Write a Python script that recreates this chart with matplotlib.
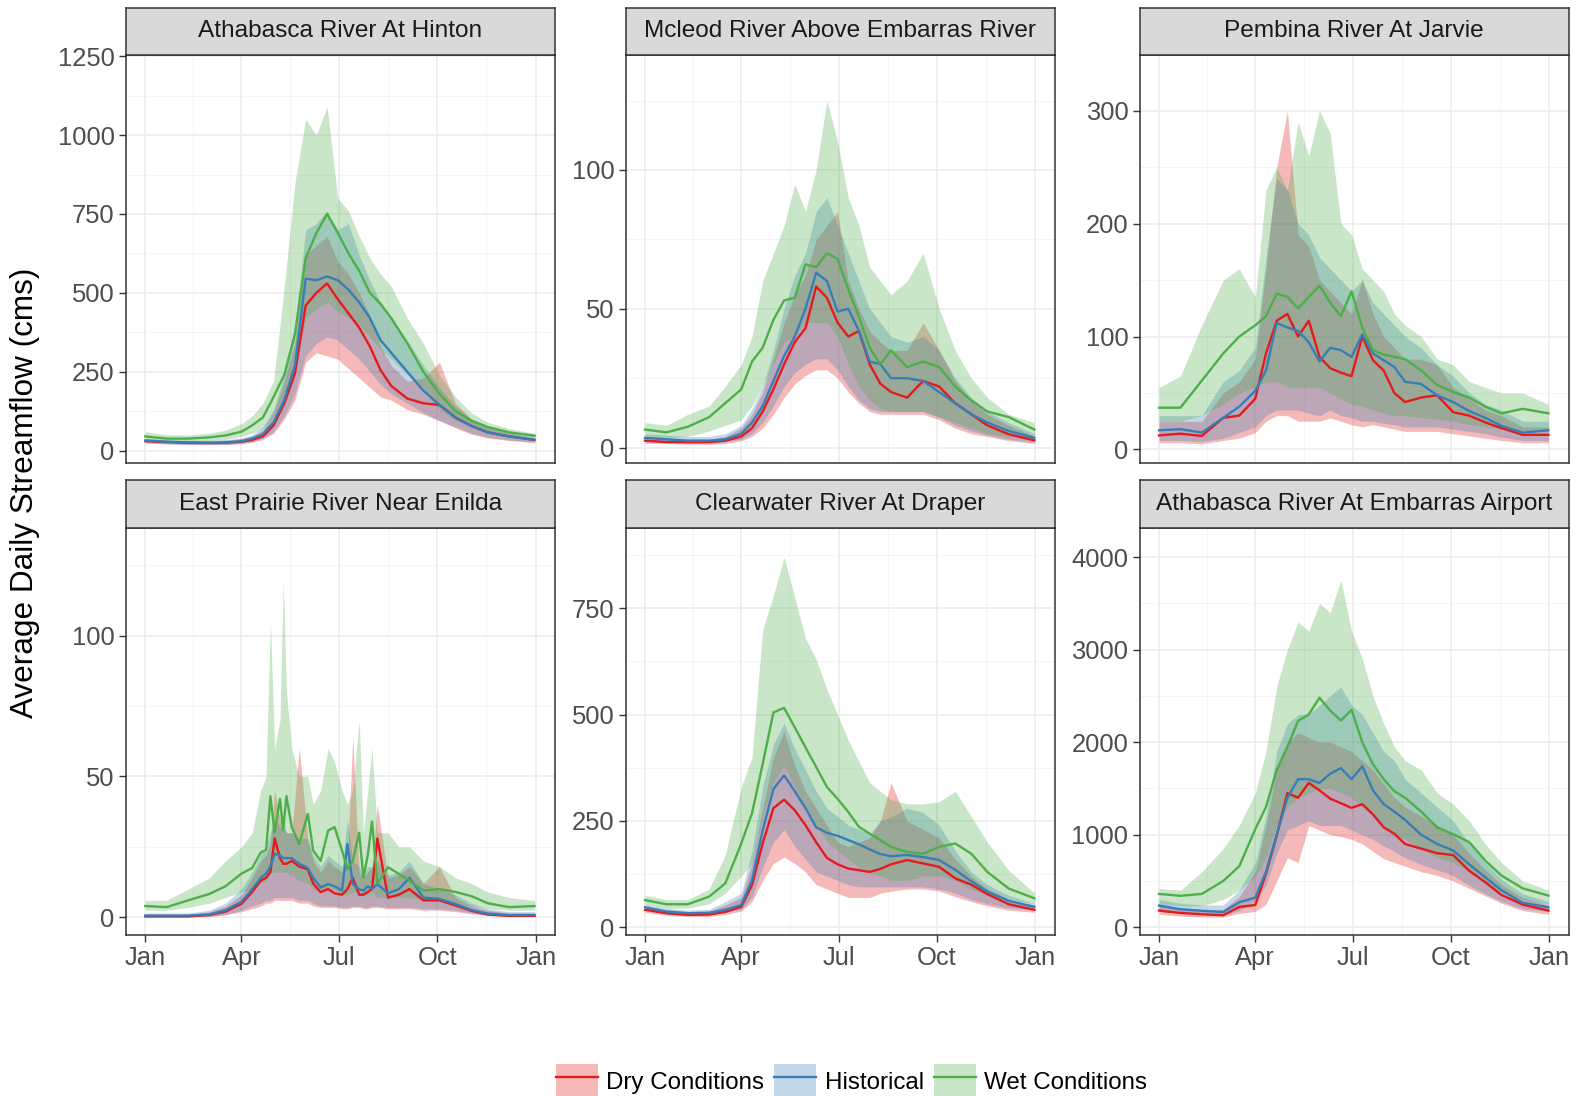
import matplotlib
matplotlib.use('agg')
import matplotlib.pyplot as plt
from matplotlib.patches import Patch
from matplotlib.lines import Line2D
from matplotlib.ticker import AutoMinorLocator

plt.rcParams['font.family'] = ['Liberation Sans', 'DejaVu Sans']

# day of year (0 = Jan 1)
DAYS = [0, 20, 40, 60, 75, 90, 100, 110, 120, 130, 140, 150, 160, 170, 180,
        190, 200, 210, 220, 230, 245, 260, 275, 290, 305, 320, 340, 364]
DAYS_EP = [0, 20, 40, 60, 75, 90, 100, 108, 113, 117, 121, 126, 129, 132, 137,
           144, 152, 157, 164, 171, 177, 184, 189, 194, 200, 204, 208, 212, 217,
           227, 237, 247, 260, 275, 290, 305, 320, 340, 364]

STATIONS = ["Athabasca River At Hinton", "Mcleod River Above Embarras River",
            "Pembina River At Jarvie", "East Prairie River Near Enilda",
            "Clearwater River At Draper", "Athabasca River At Embarras Airport"]
SCENARIOS = ["Dry Conditions", "Historical", "Wet Conditions"]
MONTHS = ["Jan", "Apr", "Jul", "Oct", "Jan"]
MONTH_DAYS = [0, 90, 181, 273, 365]

# --- Athabasca River At Hinton
HIN_DRY = [30, 27, 25, 24, 25, 28, 34, 45, 80, 150, 245, 460, 500, 530, 480, 435, 390, 330, 255, 205, 165, 150, 145, 105, 78, 58, 45, 34]
HIN_HIST = [32, 28, 26, 25, 26, 30, 38, 52, 90, 160, 270, 545, 540, 552, 540, 510, 470, 420, 350, 310, 250, 190, 145, 105, 78, 58, 45, 34]
HIN_WET = [45, 38, 38, 42, 48, 60, 80, 105, 170, 240, 370, 610, 690, 750, 690, 625, 570, 500, 465, 420, 340, 250, 180, 125, 95, 75, 58, 47]
HIN_DRY_LO = [24, 21, 19, 19, 19, 22, 26, 35, 55, 100, 160, 280, 310, 300, 290, 260, 230, 200, 170, 160, 130, 115, 95, 72, 52, 40, 32, 25]
HIN_DRY_HI = [38, 33, 31, 31, 33, 38, 46, 65, 120, 220, 340, 620, 650, 680, 600, 560, 500, 430, 330, 270, 220, 230, 280, 150, 100, 72, 55, 40]
HIN_HIST_LO = [25, 22, 20, 20, 20, 24, 28, 40, 60, 110, 180, 300, 340, 360, 350, 320, 290, 250, 210, 180, 150, 120, 95, 75, 55, 42, 34, 27]
HIN_HIST_HI = [40, 35, 33, 33, 35, 40, 50, 75, 130, 240, 400, 700, 720, 760, 700, 720, 620, 540, 470, 420, 350, 270, 200, 140, 100, 75, 58, 42]
HIN_WET_LO = [35, 30, 30, 32, 36, 45, 55, 70, 110, 160, 250, 420, 450, 470, 440, 420, 400, 360, 320, 290, 240, 190, 130, 95, 75, 58, 45, 38]
HIN_WET_HI = [60, 50, 50, 55, 65, 85, 110, 150, 220, 520, 850, 1050, 1000, 1090, 800, 760, 680, 610, 560, 520, 420, 340, 240, 170, 120, 90, 70, 55]

# --- Mcleod River Above Embarras River
MCL_DRY = [2.5, 2, 2, 2, 2.5, 4, 7, 13, 21, 30, 38, 43, 58, 54, 45, 40, 42, 30, 23, 20, 18, 24, 22, 16, 12, 8, 4.8, 2.6]
MCL_HIST = [3.5, 3, 2.5, 2.5, 3, 5, 9, 15, 24, 33, 40, 50, 63, 60, 49, 50, 42, 31, 30, 25, 25, 24, 20, 16, 12, 9, 6, 3.5]
MCL_WET = [6.5, 5.5, 7.5, 11, 16, 21, 31, 36, 46, 53, 54, 66, 65, 70, 68, 57, 47, 36, 30, 35, 29, 31, 29, 22, 17, 13, 11, 6.5]
MCL_DRY_LO = [1.5, 1.5, 1.2, 1.2, 1.5, 2.5, 4, 7, 12, 18, 23, 26, 28, 28, 25, 20, 16, 13, 12, 12, 12, 12, 10, 7, 5, 4, 2.5, 1.5]
MCL_DRY_HI = [4, 3.5, 3, 3, 4, 7, 12, 20, 32, 45, 55, 62, 75, 80, 85, 60, 50, 42, 38, 35, 35, 45, 35, 24, 17, 12, 8, 4]
MCL_HIST_LO = [2, 2, 1.5, 1.5, 2, 3, 5, 9, 15, 22, 27, 30, 32, 32, 28, 22, 17, 14, 13, 13, 13, 13, 11, 8, 6, 4.5, 3, 2]
MCL_HIST_HI = [5, 4.5, 4, 4, 5, 8, 14, 22, 35, 50, 62, 70, 85, 90, 80, 70, 60, 50, 45, 40, 38, 40, 35, 25, 18, 13, 9, 5]
MCL_WET_LO = [4, 3.5, 4, 6, 8, 10, 15, 22, 30, 38, 40, 45, 45, 45, 40, 30, 22, 17, 14, 13, 13, 13, 11, 9, 7, 5, 4, 3]
MCL_WET_HI = [9, 8, 12, 15, 22, 30, 40, 60, 70, 80, 95, 85, 100, 125, 110, 90, 80, 65, 60, 55, 60, 70, 50, 35, 25, 18, 12, 9]

# --- Pembina River At Jarvie
PEM_DRY = [12.5, 14, 12, 28, 30, 45, 85, 114, 120, 100, 114, 82, 72, 68, 65, 100, 79, 70, 50, 42, 46, 48, 33, 30, 24, 19, 13, 13]
PEM_HIST = [17, 18, 15, 28, 38, 52, 70, 112, 108, 105, 95, 78, 90, 88, 82, 102, 85, 79, 73, 60, 58, 48, 42, 34, 28, 21, 15, 17]
PEM_WET = [37, 37, 61, 85, 100, 110, 118, 138, 135, 125, 135, 145, 130, 118, 140, 108, 88, 84, 82, 80, 70, 57, 51, 46, 38, 32, 36, 32]
PEM_DRY_LO = [6, 6, 5, 8, 10, 15, 25, 30, 30, 25, 25, 25, 28, 25, 22, 20, 22, 20, 18, 16, 16, 16, 14, 12, 10, 8, 6, 6]
PEM_DRY_HI = [25, 25, 25, 50, 60, 80, 160, 250, 300, 190, 180, 150, 140, 130, 120, 150, 120, 100, 90, 80, 80, 75, 55, 45, 35, 30, 20, 20]
PEM_HIST_LO = [8, 8, 7, 10, 15, 20, 30, 35, 35, 35, 32, 30, 35, 30, 28, 25, 25, 23, 22, 20, 20, 20, 18, 16, 14, 11, 8, 8]
PEM_HIST_HI = [30, 30, 30, 60, 70, 90, 170, 240, 230, 200, 190, 170, 160, 150, 140, 150, 130, 120, 110, 100, 90, 75, 65, 50, 40, 35, 25, 25]
PEM_WET_LO = [25, 25, 30, 40, 50, 55, 60, 60, 55, 55, 55, 55, 50, 45, 40, 38, 35, 32, 30, 30, 28, 27, 25, 22, 20, 18, 17, 17]
PEM_WET_HI = [55, 65, 110, 150, 160, 135, 230, 250, 230, 290, 260, 300, 280, 200, 190, 160, 150, 140, 120, 110, 100, 80, 75, 60, 55, 50, 50, 40]

# --- East Prairie River Near Enilda (finer day grid)
EPR_DRY = [0.3, 0.3, 0.3, 0.8, 2, 4.8, 9, 13, 14, 16, 28, 21, 19, 19, 20, 18, 17, 12, 8.9, 10, 8.5, 8, 10, 14, 8, 8, 9, 10, 28, 7, 8, 10, 6, 6, 4.2, 2.3, 1, 0.5, 0.5]
EPR_HIST = [0.6, 0.6, 0.6, 1, 2.5, 5.5, 10, 14, 15.5, 18, 22.5, 22, 21, 21, 21, 19, 17.5, 14, 10.6, 11.8, 11, 9.5, 26, 11.8, 10, 9.5, 11, 10, 11.8, 8.5, 10, 14, 7, 6.5, 4.7, 2.6, 1.3, 0.8, 0.8]
EPR_WET = [4, 3.6, 6, 8.3, 11, 15.5, 17.5, 23, 24, 43, 30, 42, 31, 43, 32, 26, 36.7, 23.7, 20, 30.8, 32, 23.7, 17, 20, 30, 14, 22, 34, 12, 17.8, 15.4, 13, 9.5, 10, 9, 7.5, 5, 3.6, 4]
EPR_DRY_LO = [0.1, 0.1, 0.1, 0.3, 0.8, 2, 3, 4, 5, 5, 6, 6, 6, 6, 6, 5, 5, 4, 3.5, 3.5, 3.5, 3, 3, 3.5, 3.5, 3, 3, 3.5, 3.5, 3, 3, 3, 2.5, 2.5, 2, 1.2, 0.6, 0.3, 0.3]
EPR_DRY_HI = [1, 1, 1, 2, 4, 8, 14, 20, 22, 26, 45, 35, 32, 30, 30, 60, 28, 20, 16, 20, 18, 16, 20, 64, 16, 14, 16, 18, 40, 14, 15, 18, 12, 18, 7, 4, 2.5, 1.5, 1.5]
EPR_HIST_LO = [0.2, 0.2, 0.2, 0.4, 1, 2.5, 4, 5, 6, 6, 7, 7, 7, 7, 7, 6, 6, 5, 4, 4, 4, 3.5, 3.5, 4, 4, 3.5, 3.5, 4, 4, 3.5, 3.5, 3.5, 3, 3, 2.5, 1.5, 0.8, 0.4, 0.4]
EPR_HIST_HI = [1.5, 1.5, 1.5, 2.5, 5, 10, 16, 22, 25, 30, 35, 32, 35, 30, 30, 28, 28, 22, 18, 22, 20, 18, 35, 20, 18, 15, 18, 18, 20, 15, 16, 20, 12, 10, 8, 5, 3, 2, 2]
EPR_WET_LO = [2.5, 2.5, 3.5, 5, 7, 9, 10, 12, 13, 16, 16, 16, 16, 16, 15, 13, 12, 10, 9, 10, 10, 8, 8, 9, 9, 8, 8, 9, 7, 7, 7, 7, 6, 6, 5, 4, 3, 2.5, 2.5]
EPR_WET_HI = [6, 6, 10, 14, 20, 25, 30, 45, 50, 105, 60, 70, 120, 80, 60, 50, 50, 40, 45, 60, 55, 45, 40, 45, 70, 30, 45, 60, 30, 30, 25, 25, 20, 18, 14, 12, 9, 7, 6]

# --- Clearwater River At Draper
CLW_DRY = [41, 33, 29, 30, 36, 48, 99, 197, 280, 300, 275, 240, 200, 163, 148, 138, 134, 130, 137, 148, 158, 150, 142, 115, 100, 78, 54, 41]
CLW_HIST = [47, 37, 33, 34, 41, 52, 111, 228, 325, 357, 320, 280, 235, 222, 215, 205, 195, 183, 172, 167, 170, 165, 158, 135, 108, 84, 62, 48]
CLW_WET = [64, 54, 54, 72, 103, 197, 268, 384, 505, 516, 470, 423, 377, 330, 302, 271, 236, 220, 205, 189, 177, 173, 189, 197, 173, 130, 91, 68]
CLW_DRY_LO = [35, 28, 25, 25, 30, 38, 60, 110, 150, 165, 150, 130, 100, 90, 80, 70, 70, 70, 80, 85, 90, 90, 85, 72, 60, 50, 40, 35]
CLW_DRY_HI = [48, 40, 35, 38, 52, 70, 150, 280, 400, 460, 380, 320, 280, 240, 200, 190, 200, 210, 250, 340, 250, 230, 210, 160, 120, 90, 65, 48]
CLW_HIST_LO = [40, 32, 28, 28, 35, 42, 70, 140, 200, 230, 190, 160, 130, 120, 110, 100, 95, 95, 95, 95, 95, 95, 90, 80, 65, 55, 45, 40]
CLW_HIST_HI = [55, 45, 40, 42, 60, 80, 180, 330, 430, 480, 420, 370, 320, 280, 260, 240, 230, 220, 250, 260, 280, 270, 240, 180, 130, 100, 75, 55]
CLW_WET_LO = [55, 45, 45, 55, 80, 120, 150, 260, 340, 380, 330, 280, 240, 200, 180, 160, 140, 130, 120, 110, 110, 120, 120, 110, 90, 75, 65, 55]
CLW_WET_HI = [75, 65, 65, 90, 170, 330, 400, 700, 780, 870, 775, 680, 630, 560, 500, 440, 390, 340, 320, 300, 290, 290, 295, 320, 260, 200, 134, 80]

# --- Athabasca River At Embarras Airport
EMB_DRY = [180, 155, 140, 130, 220, 240, 580, 990, 1450, 1400, 1560, 1480, 1390, 1340, 1290, 1330, 1220, 1080, 1010, 900, 850, 800, 780, 610, 486, 350, 245, 180]
EMB_HIST = [234, 195, 178, 165, 270, 320, 600, 1000, 1400, 1600, 1600, 1560, 1660, 1720, 1600, 1740, 1480, 1330, 1250, 1160, 1000, 900, 830, 680, 540, 400, 265, 216]
EMB_WET = [360, 340, 360, 500, 660, 1060, 1300, 1700, 1950, 2230, 2300, 2480, 2342, 2234, 2350, 2000, 1760, 1600, 1470, 1400, 1250, 1080, 1005, 920, 720, 560, 420, 342]
EMB_DRY_LO = [140, 120, 110, 110, 150, 170, 250, 500, 750, 700, 1100, 1050, 1000, 980, 950, 900, 820, 740, 700, 660, 600, 560, 500, 420, 340, 260, 180, 140]
EMB_DRY_HI = [240, 210, 190, 190, 330, 600, 1100, 1700, 2000, 2100, 2050, 2000, 2000, 1950, 1900, 1800, 1700, 1550, 1400, 1300, 1200, 1100, 1000, 800, 620, 460, 320, 240]
EMB_HIST_LO = [170, 150, 140, 135, 180, 280, 450, 800, 1050, 1100, 1150, 1100, 1100, 1100, 1050, 1000, 950, 880, 820, 750, 680, 620, 560, 450, 360, 280, 200, 170]
EMB_HIST_HI = [300, 260, 240, 240, 400, 700, 1200, 1900, 2200, 2300, 2300, 2400, 2500, 2600, 2400, 2300, 2100, 1900, 1800, 1600, 1450, 1300, 1150, 900, 700, 520, 360, 280]
EMB_WET_LO = [250, 230, 230, 300, 400, 550, 750, 1100, 1300, 1400, 1450, 1500, 1500, 1450, 1400, 1300, 1200, 1100, 1000, 950, 850, 750, 700, 600, 480, 380, 300, 250]
EMB_WET_HI = [420, 400, 600, 850, 1100, 1450, 1900, 2600, 3000, 3300, 3200, 3500, 3400, 3750, 3200, 2900, 2500, 2200, 1950, 1800, 1700, 1450, 1330, 1150, 900, 700, 500, 400]

Y_TICKS = [[0, 250, 500, 750, 1000, 1250], [0, 50, 100], [0, 100, 200, 300],
           [0, 50, 100], [0, 250, 500, 750], [0, 1000, 2000, 3000, 4000]]
Y_LIMS = [(-38, 1253), (-5.4, 141.3), (-11.6, 349), (-6.4, 138.2),
          (-19, 939), (-87, 4315)]

panels = [
    (DAYS, [(HIN_DRY, HIN_DRY_LO, HIN_DRY_HI), (HIN_HIST, HIN_HIST_LO, HIN_HIST_HI), (HIN_WET, HIN_WET_LO, HIN_WET_HI)]),
    (DAYS, [(MCL_DRY, MCL_DRY_LO, MCL_DRY_HI), (MCL_HIST, MCL_HIST_LO, MCL_HIST_HI), (MCL_WET, MCL_WET_LO, MCL_WET_HI)]),
    (DAYS, [(PEM_DRY, PEM_DRY_LO, PEM_DRY_HI), (PEM_HIST, PEM_HIST_LO, PEM_HIST_HI), (PEM_WET, PEM_WET_LO, PEM_WET_HI)]),
    (DAYS_EP, [(EPR_DRY, EPR_DRY_LO, EPR_DRY_HI), (EPR_HIST, EPR_HIST_LO, EPR_HIST_HI), (EPR_WET, EPR_WET_LO, EPR_WET_HI)]),
    (DAYS, [(CLW_DRY, CLW_DRY_LO, CLW_DRY_HI), (CLW_HIST, CLW_HIST_LO, CLW_HIST_HI), (CLW_WET, CLW_WET_LO, CLW_WET_HI)]),
    (DAYS, [(EMB_DRY, EMB_DRY_LO, EMB_DRY_HI), (EMB_HIST, EMB_HIST_LO, EMB_HIST_HI), (EMB_WET, EMB_WET_LO, EMB_WET_HI)]),
]

COLORS = ['#E41A1C', '#377EB8', '#4DAF4A']
ALPHA = 0.3

W, H = 1577, 1096
fig = plt.figure(figsize=(W / 100, H / 100), dpi=100)

col_left = [125.7, 625.5, 1139.5]
col_w = 429.5
row_top = [55.3, 528.0]
row_h = 407.3
strip_h = 47.8

for i, (days, series) in enumerate(panels):
    r, c = divmod(i, 3)
    x0 = col_left[c] / W
    y0 = 1 - (row_top[r] + row_h) / H
    ax = fig.add_axes([x0, y0, col_w / W, row_h / H])
    for (mid, lo, hi), col in zip(series, COLORS):
        ax.fill_between(days, lo, hi, color=col, alpha=ALPHA, lw=0)
    for (mid, lo, hi), col in zip(series, COLORS):
        ax.plot(days, mid, color=col, lw=1.7)

    ax.set_xlim(-18.25, 383.25)
    ax.set_ylim(*Y_LIMS[i])
    ax.set_yticks(Y_TICKS[i])
    ax.set_yticklabels([str(t) for t in Y_TICKS[i]])
    ax.yaxis.set_minor_locator(AutoMinorLocator(2))
    ax.set_xticks(MONTH_DAYS)
    ax.set_xticks([45, 135.5, 227, 319], minor=True)
    ax.set_xticklabels(MONTHS)
    ax.grid(which='major', color='#EBEBEB', lw=1.1)
    ax.grid(which='minor', color='#F2F2F2', lw=0.6)
    ax.set_axisbelow(True)
    ax.tick_params(which='minor', length=0)
    ax.tick_params(which='major', length=5, width=1, color='#333333',
                   labelsize=18.4, labelcolor='#4D4D4D', pad=3)
    if r == 0:
        ax.tick_params(axis='x', which='both', length=0, labelbottom=False)
    for s in ax.spines.values():
        s.set_color('#333333')
        s.set_linewidth(1.1)

    sax = fig.add_axes([x0, 1 - row_top[r] / H, col_w / W, strip_h / H])
    sax.set_facecolor('#D9D9D9')
    sax.set_xticks([])
    sax.set_yticks([])
    for s in sax.spines.values():
        s.set_color('#333333')
        s.set_linewidth(1.1)
    sax.text(0.5, 0.5, STATIONS[i], ha='center', va='center',
             fontsize=17.6, color='#1A1A1A', transform=sax.transAxes)

fig.text(25 / W, 1 - 493 / H, "Average Daily Streamflow (cms)", rotation=90,
         ha='center', va='center', fontsize=22.7, color='black')

handles = [(Patch(facecolor=col, alpha=ALPHA, edgecolor='none'),
            Line2D([], [], color=col, lw=1.7)) for col in COLORS]
fig.legend(handles, SCENARIOS, loc='center', bbox_to_anchor=(0.54, 0.0137),
           ncol=3, frameon=False, fontsize=17.4, handlelength=1.75,
           handleheight=1.75, handletextpad=0.35, columnspacing=0.4)

fig.savefig('out.png', dpi=100)
